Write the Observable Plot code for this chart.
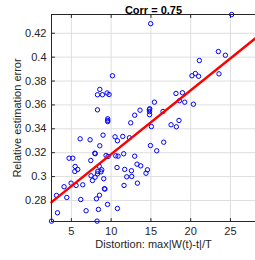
<!DOCTYPE html>
<html>
<head>
<meta charset="utf-8">
<script src="https://cdn.jsdelivr.net/npm/d3@7"></script>
<script src="https://cdn.jsdelivr.net/npm/@observablehq/plot@0.6"></script>
<style>
  html, body { margin: 0; padding: 0; background: white; }
</style>
</head>
<body>
<div id="chart"></div>
<script>
const titleText = "Corr = 0.75";
const xLabel = "Distortion: max|W(t)-t|/T";
const yLabel = "Relative estimation error";

const xTicks = [5, 10, 15, 20, 25];
const yTicks = [0.28, 0.30, 0.32, 0.34, 0.36, 0.38, 0.40, 0.42];
const xDomain = [2.5, 28.15];
const yDomain = [0.2624, 0.4357];

// distortion values
const distortion = [
  14.97, 25.15, 10.16, 8.57, 20.16, 20.59, 21.0, 21.09, 23.48, 24.36, 23.56,
  8.28, 8.9, 9.49, 9.74, 8.28, 9.57, 9.57, 9.57, 6.1, 7.35, 8.98, 8.57, 7.94, 8.0,
  4.71, 5.18, 5.47, 5.8, 5.43, 7.44, 8.32, 8.82, 9.36, 9.61, 10.49, 10.79, 11.46,
  10.58, 10.87, 11.58, 10.74, 11.7, 12.55, 12.96, 13.25, 13.72, 14.56, 12.3, 12.46,
  12.96, 13.63, 14.8, 14.85, 14.83, 14.83, 15.44, 16.52, 15.06, 14.94, 15.73, 16.61,
  17.53, 18.2, 18.53, 18.15, 18.96, 18.58, 19.25, 20.34,
  2.5, 3.25, 3.13, 4.08, 4.42, 4.96, 5.59, 6.43, 6.18, 6.85, 7.47, 7.65, 7.98, 8.28,
  9.07, 8.15, 8.53, 9.15, 9.22, 8.4, 9.54, 8.23, 10.79, 11.62, 11.96, 12.59, 13.3,
  14.38, 8.5, 8.73
];
// relative estimation error values
const relError = [
  0.428, 0.4357, 0.3844, 0.373, 0.3844, 0.3863, 0.384, 0.3972, 0.4047, 0.4016, 0.386,
  0.3685, 0.3685, 0.370, 0.3687, 0.3559, 0.3484, 0.347, 0.346, 0.3316, 0.3308, 0.3347, 0.3258, 0.3196, 0.3192,
  0.3154, 0.3154, 0.3085, 0.306, 0.3043, 0.3135, 0.3043, 0.3057, 0.3177, 0.3168, 0.3333, 0.330, 0.3336,
  0.3174, 0.3171, 0.3191, 0.3076, 0.306, 0.3049, 0.3171, 0.3104, 0.309, 0.3057, 0.3325, 0.345,
  0.3514, 0.3556, 0.356, 0.3568, 0.3544, 0.3518, 0.3623, 0.3545, 0.3419, 0.326, 0.3216, 0.3288,
  0.3434, 0.3417, 0.347, 0.3696, 0.3702, 0.3635, 0.3623, 0.3606,
  0.2627, 0.2697, 0.2842, 0.2915, 0.2825, 0.2945, 0.2926, 0.2931, 0.2808, 0.2714, 0.3007, 0.2967, 0.2995, 0.3023,
  0.2982, 0.2814, 0.2844, 0.2898, 0.2896, 0.2725, 0.2767, 0.2627, 0.2733, 0.2926, 0.2998, 0.3001, 0.2945,
  0.3028, 0.3087, 0.304
];

// least-squares fit line endpoints
const fitX = [2.5, 28.15];
const fitY = [0.2786, 0.4158];

const points = distortion.map((x, i) => ({x, y: relError[i]}));
const fit = fitX.map((x, i) => ({x, y: fitY[i]}));

const tickShape = {draw(ctx, l) { ctx.moveTo(0, 0); ctx.lineTo(0, -l); }};
const axisColor = "#262626";
const fmt = d => String(+d.toFixed(2));

const chart = Plot.plot({
  width: 255,
  height: 260,
  marginLeft: 51,
  marginRight: 0,
  marginTop: 14,
  marginBottom: 39,
  style: {fontFamily: "'Liberation Sans', Arial, Helvetica, sans-serif", fontSize: "11px", color: axisColor, background: "white"},
  x: {domain: xDomain},
  y: {domain: yDomain},
  marks: [
    Plot.gridX(xTicks, {stroke: "#dedede", strokeOpacity: 1}),
    Plot.gridY(yTicks, {stroke: "#dedede", strokeOpacity: 1}),
    Plot.axisX(xTicks, {tickSize: 0, tickPadding: 6, label: null, fontSize: 11}),
    Plot.axisY(yTicks, {tickSize: 0, tickPadding: 5, label: null, tickFormat: fmt, fontSize: 11}),
    Plot.vector(xTicks, {x: d => d, frameAnchor: "bottom", length: 3, anchor: "start", rotate: 0, shape: tickShape, stroke: axisColor, strokeWidth: 1}),
    Plot.vector(xTicks, {x: d => d, frameAnchor: "top", length: 3, anchor: "start", rotate: 180, shape: tickShape, stroke: axisColor, strokeWidth: 1}),
    Plot.vector(yTicks, {y: d => d, frameAnchor: "left", length: 3, anchor: "start", rotate: 90, shape: tickShape, stroke: axisColor, strokeWidth: 1}),
    Plot.dot(points, {x: "x", y: "y", r: 2.2, stroke: "#0000ff", strokeWidth: 1, fill: "none"}),
    Plot.line(fit, {x: "x", y: "y", stroke: "#ff0000", strokeWidth: 2.5}),
    Plot.frame({stroke: axisColor, strokeWidth: 1}),
    Plot.text([titleText], {frameAnchor: "top", dy: -8, fontWeight: "bold", fontSize: 11, fill: "#000"}),
    Plot.text([xLabel], {frameAnchor: "bottom", dy: 26, fontSize: 11, fill: axisColor}),
    Plot.text([yLabel], {frameAnchor: "left", dx: -34, rotate: -90, textAnchor: "middle", fontSize: 11, fill: axisColor})
  ]
});
document.getElementById("chart").appendChild(chart);
</script>
</body>
</html>
